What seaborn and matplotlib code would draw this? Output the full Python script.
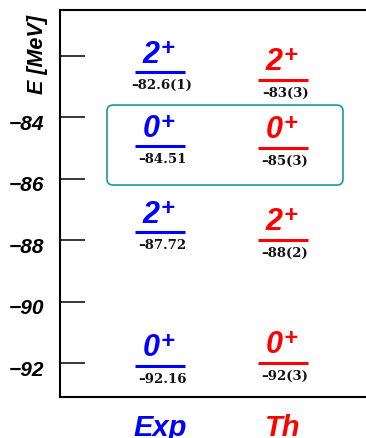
import numpy as np
import pandas as pd
import matplotlib
matplotlib.use('Agg')
import matplotlib.pyplot as plt
import seaborn as sns
from matplotlib.patches import FancyBboxPatch
from matplotlib.transforms import ScaledTranslation

# значения
columns = ['Exp', 'Th']
col_colors = ['#0000ff', '#ff0000']
spins = ['2', '0', '2', '0']
exp_levels = [-82.55, -84.95, -87.75, -92.08]   # положение уровней на рисунке
th_levels = [-82.8, -85.0, -88.0, -92.0]
exp_labels = ['–82.6(1)', '–84.51', '–87.72', '–92.16']
th_labels = ['–83(3)', '–85(3)', '–88(2)', '–92(3)']
yticks = [-82, -84, -86, -88, -90, -92]
ytick_labels = ['', '−84', '−86', '−88', '−90', '−92']
box_levels = [-83.61, -86.21]   # рамка вокруг пары 0+

levels = pd.DataFrame({
    'col': np.repeat(columns, len(spins)),
    'E': exp_levels + th_levels,
    'spin': spins * 2,
    'label': exp_labels + th_labels,
})
levels['x'] = levels['col'].map({c: i for i, c in enumerate(columns)})
levels['color'] = levels['col'].map(dict(zip(columns, col_colors)))

sns.set_style('ticks')
plt.rcParams['font.family'] = ['Liberation Sans', 'DejaVu Sans']
for k in ['text.color', 'axes.labelcolor', 'xtick.color', 'ytick.color', 'axes.edgecolor']:
    plt.rcParams[k] = 'black'

fig = plt.figure(figsize=(3.66, 4.38), dpi=100)
ax = fig.add_axes([60 / 366, 41 / 438, 306 / 366, 387 / 438])

half = 0.2
bi = dict(fontweight='bold', fontstyle='italic')
for _, r in levels.iterrows():
    ax.hlines(r['E'], r['x'] - half, r['x'] + half, color=r['color'], lw=2.2)
    # спин: цифра + поднятый плюс
    ax.annotate(r['spin'], xy=(r['x'], r['E']), xytext=(-0.5, 7),
                textcoords='offset points', ha='right', va='baseline',
                fontsize=22, color=r['color'], **bi)
    ax.annotate('+', xy=(r['x'], r['E']), xytext=(0.5, 12.8),
                textcoords='offset points', ha='left', va='baseline',
                fontsize=17, color=r['color'], **bi)
    ax.annotate(r['label'], xy=(r['x'], r['E']), xytext=(1.5, -5),
                textcoords='offset points', ha='center', va='top',
                family='DejaVu Serif', weight='bold', fontsize=9.5, color='#111111')

box = FancyBboxPatch((-0.431, box_levels[1]), 1.488 + 0.431, box_levels[0] - box_levels[1],
                     boxstyle='round,pad=0,rounding_size=0.05', mutation_aspect=4,
                     ec='#1a9a96', fc='none', lw=1.2)
ax.add_patch(box)

ax.set_xlim(-0.813, 1.675)
ax.set_ylim(-93.1, -80.52)

ax.set_yticks(yticks)
ax.set_yticklabels(ytick_labels, fontsize=15, **bi)
ax.tick_params(axis='y', direction='in', length=18, width=1.1, pad=11.5)
for lbl in ax.get_yticklabels():
    lbl.set_transform(lbl.get_transform() + ScaledTranslation(0, -0.05, fig.dpi_scale_trans))

ax.set_xticks(range(len(columns)))
ax.set_xticklabels(columns, fontsize=21, **bi)
for lbl, c in zip(ax.get_xticklabels(), col_colors):
    lbl.set_color(c)
ax.tick_params(axis='x', length=0, pad=12)

ax.set_ylabel('E [MeV]', fontsize=15.5, **bi)
ax.yaxis.set_label_coords(-22 / 306, (397 - 55) / 387)
ax.yaxis.label.set_verticalalignment('center')

ax.spines['right'].set_visible(False)
for s in ['top', 'left', 'bottom']:
    ax.spines[s].set_linewidth(1.5)

fig.savefig('out.png', dpi=100)
